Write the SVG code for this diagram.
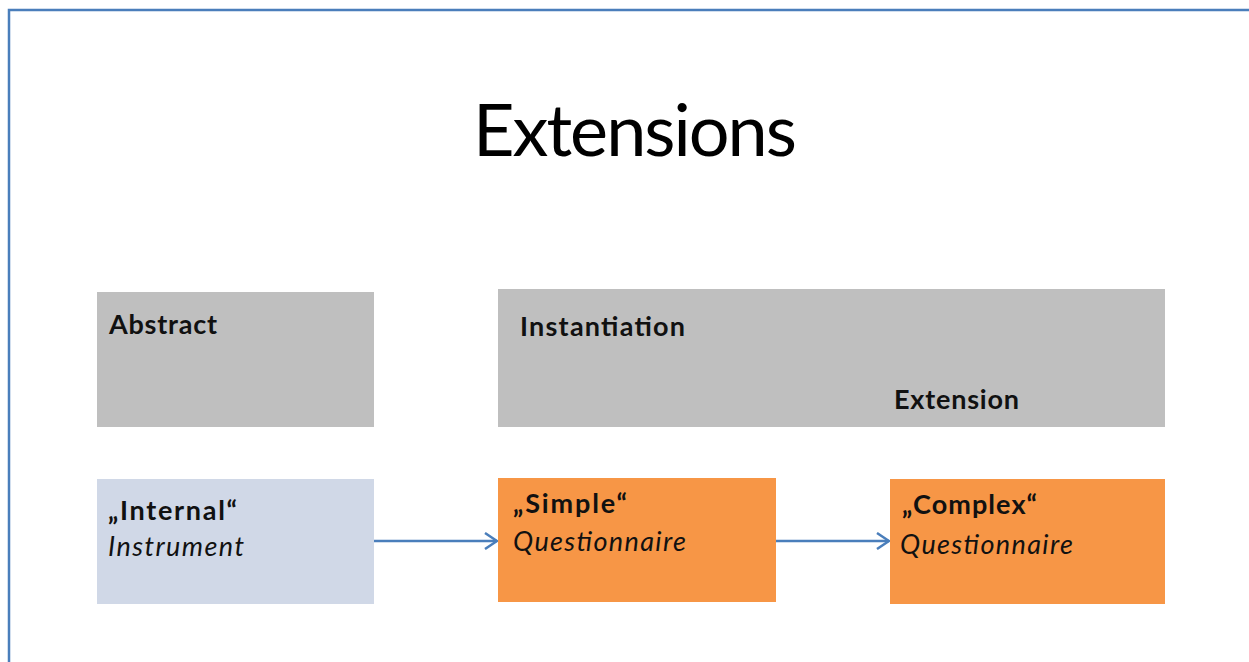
<svg xmlns="http://www.w3.org/2000/svg" width="1249" height="662" viewBox="0 0 1249 662">
  <style>
    .title { font-family: Lato, "Open Sans", "Liberation Sans", sans-serif; font-size: 72px; fill: #000; }
    .head { font-family: Lato, "Open Sans", "Liberation Sans", sans-serif; font-weight: bold; font-size: 27px; fill: #111; }
    .lbl { font-family: Lato, "Open Sans", "Liberation Sans", sans-serif; font-weight: bold; font-size: 27px; fill: #111; }
    .sub { font-family: Lato, "Open Sans", "Liberation Sans", sans-serif; font-style: italic; font-size: 27px; fill: #111; }
    .gray { fill: #BFBFBF; }
    .blue { fill: #D0D8E7; }
    .orange { fill: #F79646; }
    .conn { stroke: #4A7EBB; stroke-width: 2.5; fill: none; }
  </style>
  <defs>
    <marker id="open-arrow" viewBox="0 0 14 18" refX="13" refY="9" markerWidth="14" markerHeight="18" markerUnits="userSpaceOnUse" orient="auto">
      <path d="M1,1 L13,9 L1,17" fill="none" stroke="#4A7EBB" stroke-width="2.5"/>
    </marker>
  </defs>

  <rect width="1249" height="662" fill="#fff"/>
  <!-- slide frame -->
  <path d="M9,662 V10 H1249" fill="none" stroke="#4A7EBB" stroke-width="2.5"/>

  <text class="title" x="473" y="156" textLength="324">Extensions</text>

  <g id="abstract">
    <rect class="gray" x="97" y="292" width="277" height="135"/>
    <text class="head" x="109" y="334" textLength="108">Abstract</text>
  </g>

  <g id="instantiation">
    <rect class="gray" x="498" y="289" width="667" height="138"/>
    <text class="head" x="520" y="336" textLength="165">Instantiation</text>
    <text class="head" x="894" y="409" textLength="125">Extension</text>
  </g>

  <g id="internal-instrument">
    <rect class="blue" x="97" y="479" width="277" height="125"/>
    <text class="lbl" x="108" y="520" textLength="129">„Internal“</text>
    <text class="sub" x="108" y="556" textLength="136">Instrument</text>
  </g>

  <g id="simple-questionnaire">
    <rect class="orange" x="498" y="478" width="278" height="124"/>
    <text class="lbl" x="513" y="513" textLength="114">„Simple“</text>
    <text class="sub" x="513" y="551" textLength="173">Questionnaire</text>
  </g>

  <g id="complex-questionnaire">
    <rect class="orange" x="890" y="479" width="275" height="125"/>
    <text class="lbl" x="902" y="513.5" textLength="135">„Complex“</text>
    <text class="sub" x="900" y="554" textLength="173">Questionnaire</text>
  </g>

  <g id="connectors">
    <line class="conn" x1="374" y1="541" x2="497" y2="541" marker-end="url(#open-arrow)"/>
    <line class="conn" x1="776" y1="541" x2="889" y2="541" marker-end="url(#open-arrow)"/>
  </g>
</svg>
